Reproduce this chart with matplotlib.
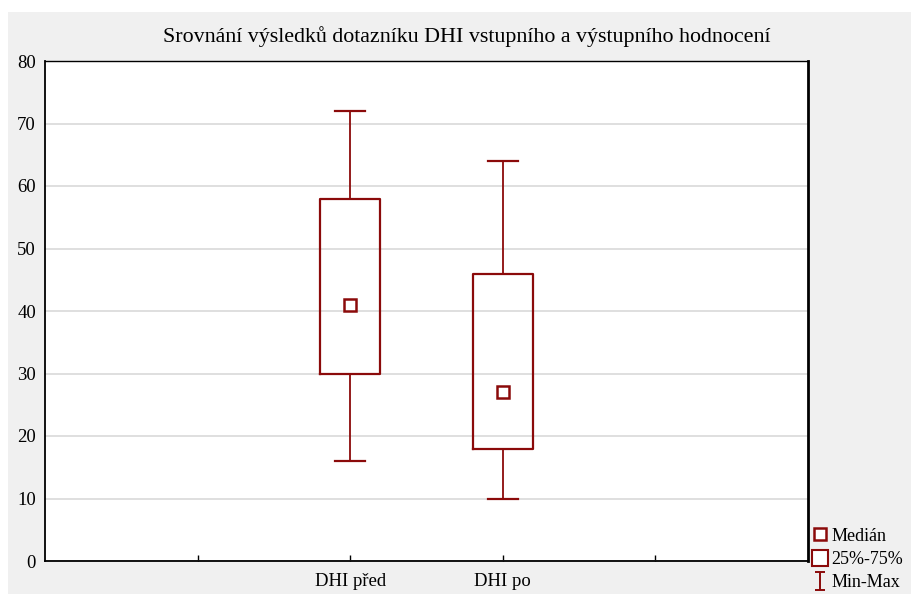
import matplotlib
matplotlib.use("Agg")
import matplotlib.pyplot as plt
from matplotlib.patches import Rectangle
from matplotlib.lines import Line2D
from matplotlib.path import Path

plt.rcParams['font.family'] = ['Liberation Serif', 'DejaVu Serif']

# data
labels = ["DHI před", "DHI po"]
positions = [2, 3]
q1 = [30, 18]
q3 = [58, 46]
med = [41, 27]
vmin = [16, 10]
vmax = [72, 64]

dark_red = "#8b0a0a"

fig = plt.figure(figsize=(9.11, 5.94), dpi=100)
fig.patch.set_facecolor("white")
fig.add_artist(Rectangle((8 / 911, 0), 1, 1 - 12 / 594, transform=fig.transFigure,
                         facecolor="#f0f0f0", edgecolor="none", zorder=-10))

ax = fig.add_axes([45 / 911, 1 - 561 / 594, (808 - 45) / 911, (561 - 61) / 594])
ax.set_facecolor("white")

stats = []
for i in range(len(labels)):
    stats.append({"med": med[i], "q1": q1[i], "q3": q3[i],
                  "whislo": vmin[i], "whishi": vmax[i], "fliers": [], "label": labels[i]})

ax.bxp(stats, positions=positions, widths=0.39, showfliers=False,
       boxprops=dict(color=dark_red, linewidth=1.6),
       whiskerprops=dict(color=dark_red, linewidth=1.3),
       capprops=dict(color=dark_red, linewidth=1.6),
       capwidths=0.2,
       medianprops=dict(linestyle="none"))
ax.plot(positions, med, linestyle="none", marker="s", markersize=8,
        markerfacecolor="white", markeredgecolor=dark_red, markeredgewidth=1.8, zorder=5)

ax.set_xlim(0, 5)
ax.set_ylim(0, 80)
ax.set_xticks([1, 2, 3, 4])
ax.set_xticklabels(["", labels[0], labels[1], ""])
ax.set_yticks(range(0, 81, 10))
ax.tick_params(axis="both", labelsize=13.5, length=4, width=1, color="black")
ax.tick_params(axis="x", direction="in", pad=9)
ax.tick_params(axis="y", direction="in", length=0, pad=6.5)
ax.yaxis.grid(True, color="#d9d9d9", linewidth=1.2)
ax.set_axisbelow(True)
for s in ["left", "bottom"]:
    ax.spines[s].set_linewidth(1.3)
ax.spines["top"].set_linewidth(1.0)
ax.spines["right"].set_linewidth(2.0)

fig.text(467 / 911, 1 - 37 / 594, "Srovnání výsledků dotazníku DHI vstupního a výstupního hodnocení",
         ha="center", va="center", fontsize=15.8)

cap_marker = Path([(-0.5, 1), (0.5, 1), (0, 1), (0, -1), (-0.5, -1), (0.5, -1)],
                  [Path.MOVETO, Path.LINETO, Path.MOVETO, Path.LINETO, Path.MOVETO, Path.LINETO])
handles = [
    Line2D([], [], linestyle="none", marker="s", markersize=8, markerfacecolor="white",
           markeredgecolor=dark_red, markeredgewidth=1.8),
    Line2D([], [], linestyle="none", marker="s", markersize=12, markerfacecolor="white",
           markeredgecolor=dark_red, markeredgewidth=1.5),
    Line2D([], [], linestyle="none", marker=cap_marker, markersize=13,
           markeredgecolor=dark_red, markeredgewidth=1.4),
]
fig.legend(handles, ["Medián", "25%-75%", "Min-Max"], loc="upper left",
           bbox_to_anchor=(800 / 911, 1 - 515 / 594), frameon=False, fontsize=13,
           handlelength=0.8, handletextpad=0.25, labelspacing=0.35, borderpad=0.2)

fig.savefig("out.png", dpi=100, facecolor=fig.get_facecolor())
